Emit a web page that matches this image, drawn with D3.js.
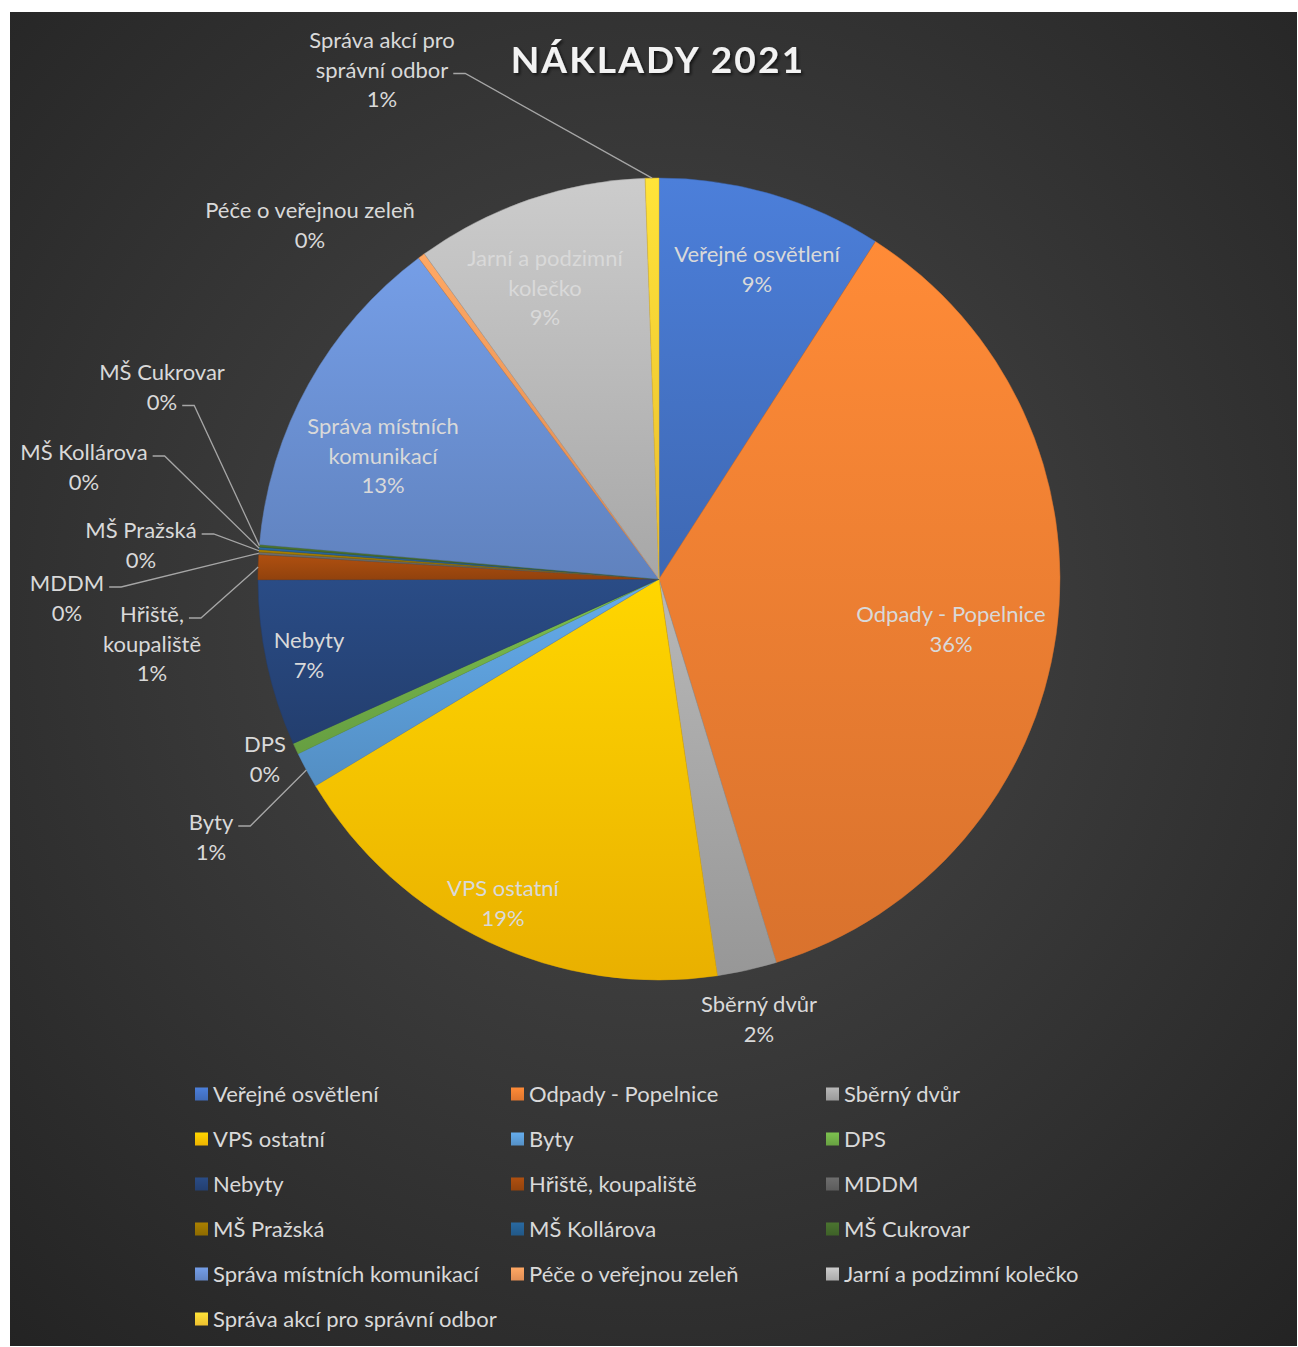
<!DOCTYPE html>
<html>
<head>
<meta charset="utf-8">
<script src="https://cdn.jsdelivr.net/npm/d3@7"></script>
<style>
  body { margin: 0; background: #fff; }
  svg { display: block; }
  text { font-family: Lato, "Open Sans", sans-serif; }
</style>
</head>
<body>
<div id="chart"></div>
<script>
// kategorie a hodnoty (podíl v %)
const categories = [
  'Veřejné osvětlení', 'Odpady - Popelnice', 'Sběrný dvůr', 'VPS ostatní',
  'Byty', 'DPS', 'Nebyty', 'Hřiště, koupaliště', 'MDDM', 'MŠ Pražská',
  'MŠ Kollárova', 'MŠ Cukrovar', 'Správa místních komunikací',
  'Péče o veřejnou zeleň', 'Jarní a podzimní kolečko', 'Správa akcí pro správní odbor'
];
const values = [9.08, 36.2, 2.4, 18.7, 1.45, 0.45, 6.7, 1.0, 0.1, 0.1, 0.1, 0.1, 13.4, 0.28, 9.4, 0.55];
const colors = [
  '#4472C4', '#ED7D31', '#A5A5A5', '#FFC000', '#5B9BD5', '#70AD47', '#264478', '#9E480E',
  '#636363', '#997300', '#255E91', '#43682B', '#698ED0', '#F1975A', '#B7B7B7', '#FFCD33'
];
const title = 'NÁKLADY 2021';

// umístění popisků: střed prvního řádku vůči středu koláče, lead = řádek s vodicí čarou
const labelLayout = {
  'Veřejné osvětlení': { dx: 98, dy: -325 },
  'Odpady - Popelnice': { dx: 292, dy: 35 },
  'VPS ostatní': { dx: -156, dy: 309 },
  'Nebyty': { dx: -350, dy: 61 },
  'Správa místních komunikací': { dx: -276, dy: -153, lines: ['Správa místních', 'komunikací'] },
  'Jarní a podzimní kolečko': { dx: -114, dy: -321, lines: ['Jarní a podzimní', 'kolečko'] },
  'Sběrný dvůr': { dx: 100, dy: 425 },
  'DPS': { dx: -394, dy: 165 },
  'Byty': { dx: -448, dy: 243, lead: 0 },
  'Hřiště, koupaliště': { dx: -507, dy: 35, lines: ['Hřiště,', 'koupaliště'], lead: 0 },
  'MDDM': { dx: -592, dy: 4, lead: 0 },
  'MŠ Pražská': { dx: -518, dy: -49, lead: 0 },
  'MŠ Kollárova': { dx: -575, dy: -127, lead: 0 },
  'MŠ Cukrovar': { dx: -497, dy: -207, lead: 1 },
  'Péče o veřejnou zeleň': { dx: -349, dy: -369 },
  'Správa akcí pro správní odbor': { dx: -277, dy: -539, lines: ['Správa akcí pro', 'správní odbor'], lead: 1 }
};

const W = 1298, H = 1347;
const cx = 659, cy = 579, R = 401;
const lineH = 29.5;
const textColor = '#d9d9d9';
const fontSize = 22;

const svg = d3.select('#chart').append('svg')
  .attr('width', W).attr('height', H);
const defs = svg.append('defs');

// pozadí
const bg = defs.append('radialGradient').attr('id', 'bg')
  .attr('cx', '50%').attr('cy', '45%').attr('r', '75%');
bg.append('stop').attr('offset', '0%').attr('stop-color', '#4a4a4a');
bg.append('stop').attr('offset', '100%').attr('stop-color', '#232323');
svg.append('rect').attr('x', 10).attr('y', 12).attr('width', W - 11).attr('height', H - 13)
  .attr('fill', 'url(#bg)');

const shadow = defs.append('filter').attr('id', 'tshadow')
  .attr('x', '-10%').attr('y', '-30%').attr('width', '120%').attr('height', '160%');
shadow.append('feDropShadow').attr('dx', 2).attr('dy', 2).attr('stdDeviation', 1.5)
  .attr('flood-color', '#000').attr('flood-opacity', 0.6);

svg.append('text')
  .attr('x', 658).attr('y', 73)
  .attr('text-anchor', 'middle')
  .attr('fill', '#f2f2f2')
  .attr('font-size', 37).attr('font-weight', 'bold')
  .attr('letter-spacing', 2.2)
  .attr('filter', 'url(#tshadow)')
  .text(title);

// gradienty výsečí (světlejší nahoře, tmavší dole)
colors.forEach((c, i) => {
  const gr = defs.append('linearGradient').attr('id', 'sg' + i)
    .attr('x1', 0).attr('y1', 0).attr('x2', 0).attr('y2', 1);
  gr.append('stop').attr('offset', '0%').attr('stop-color', d3.color(c).brighter(0.3));
  gr.append('stop').attr('offset', '100%').attr('stop-color', d3.color(c).darker(0.25));
});

const data = categories.map((name, i) => ({ name, value: values[i], i }));
const total = d3.sum(values);
const pct = d => Math.round(d.data.value / total * 100) + '%';

const pie = d3.pie().value(d => d.value).sort(null);
const arcs = pie(data);
const arc = d3.arc().innerRadius(0).outerRadius(R);

const g = svg.append('g').attr('transform', `translate(${cx},${cy})`);

g.selectAll('path.slice')
  .data(arcs)
  .enter().append('path')
  .attr('class', 'slice')
  .attr('d', arc)
  .attr('fill', d => `url(#sg${d.data.i})`)
  .attr('stroke', d => d3.color(colors[d.data.i]).darker(0.3))
  .attr('stroke-width', 0.5);

// popisky
arcs.forEach(d => {
  const lay = labelLayout[d.data.name];
  const lines = (lay.lines || [d.data.name]).concat([pct(d)]);
  const mid = (d.startAngle + d.endAngle) / 2;
  const x = lay.dx, y = lay.dy;
  const t = g.append('text')
    .attr('text-anchor', 'middle')
    .attr('fill', textColor)
    .attr('font-size', fontSize);
  lines.forEach((ln, k) => {
    t.append('tspan').attr('x', x).attr('y', y + k * lineH + 8).text(ln);
  });
  if (lay.lead !== undefined) {
    const span = t.selectAll('tspan').nodes()[lay.lead];
    const w = span.getComputedTextLength();
    const ly = y + lay.lead * lineH + 4;
    const x0 = x + w / 2 + 5;
    const ex = Math.sin(mid) * R, ey = -Math.cos(mid) * R;
    g.append('path')
      .attr('d', d3.line()([[x0, ly], [x0 + 12, ly], [ex, ey]]))
      .attr('fill', 'none')
      .attr('stroke', '#a6a6a6')
      .attr('stroke-width', 1.3);
  }
});

// legenda
colors.forEach((c, i) => {
  const lg = defs.append('linearGradient').attr('id', 'lg' + i)
    .attr('x1', 0).attr('y1', 0).attr('x2', 0).attr('y2', 1);
  lg.append('stop').attr('offset', '0%').attr('stop-color', d3.color(c).brighter(0.3));
  lg.append('stop').attr('offset', '100%').attr('stop-color', d3.color(c).darker(0.2));
});
const legendX = d3.scaleOrdinal().domain([0, 1, 2]).range([195, 511, 826]);
const legendY = d3.scaleLinear().domain([0, 1]).range([1094, 1139]);
const leg = svg.append('g').selectAll('g')
  .data(data)
  .enter().append('g')
  .attr('transform', (d, i) => `translate(${legendX(i % 3)},${legendY(Math.floor(i / 3))})`);
leg.append('rect')
  .attr('x', 0).attr('y', -6.5).attr('width', 13).attr('height', 13)
  .attr('fill', d => `url(#lg${d.i})`);
leg.append('text')
  .attr('x', 18).attr('y', 8)
  .attr('fill', textColor)
  .attr('font-size', fontSize)
  .text(d => d.name);
</script>
</body>
</html>
